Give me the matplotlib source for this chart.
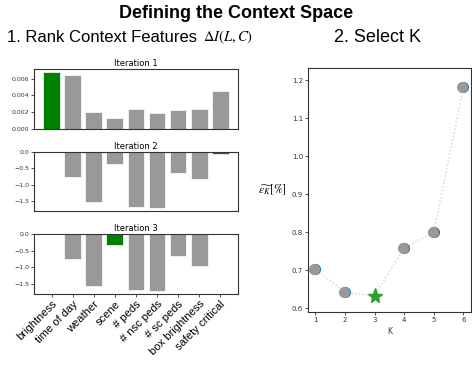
import matplotlib.pyplot as plt
import numpy as np

plt.rcParams["mathtext.fontset"] = "stix"

features = ["brightness", "time of day", "weather", "scene", "# peds",
            "# nsc peds", "# sc peds", "box brightness", "safety critical"]
iter1 = [0.0068, 0.00648, 0.00204, 0.00127, 0.00244, 0.00187, 0.00232, 0.00240, 0.00448]
iter2 = [0.0, -0.75, -1.53, -0.37, -1.68, -1.71, -0.63, -0.81, -0.07]
iter3 = [0.0, -0.75, -1.57, -0.34, -1.70, -1.73, -0.67, -0.98, 0.0]
picked = [0, 8, 3]  # green bar per iteration

k_vals = [1, 2, 3, 4, 5, 6]
eps_k = [0.703, 0.642, 0.633, 0.758, 0.801, 1.182]
best_k = 3

GRAY = "#999999"
SPINE = "#333333"

fig = plt.figure(figsize=(4.72, 3.65), dpi=100)
fig.text(0.5, 0.962, "Defining the Context Space", ha="center", va="center",
         fontsize=13, fontweight="bold", family="Liberation Sans")
fig.text(0.015, 0.897, "1. Rank Context Features", ha="left", va="center",
         fontsize=12, family="Liberation Sans")
fig.text(0.43, 0.897, r"$\Delta I(L,C)$", ha="left", va="center", fontsize=10.5)
fig.text(0.80, 0.897, "2. Select K", ha="center", va="center",
         fontsize=13, family="Liberation Sans")


def style(ax, size=4.5):
    for s in ax.spines.values():
        s.set_color(SPINE)
        s.set_linewidth(0.8)
    ax.tick_params(labelsize=size, length=2, width=0.6, pad=1.5, colors=SPINE)


x = np.arange(len(features))
rects = [(0.072, 0.6466, 0.432, 0.164),
         (0.072, 0.4219, 0.432, 0.162),
         (0.072, 0.1945, 0.432, 0.164)]
for i, (vals, rect) in enumerate(zip([iter1, iter2, iter3], rects)):
    ax = fig.add_axes(rect)
    colors = [GRAY] * len(vals)
    colors[picked[i]] = "green"
    ax.bar(x, vals, width=0.8, color=colors, edgecolor="white", linewidth=0.5)
    ax.set_title(f"Iteration {i + 1}", fontsize=6, pad=2)
    style(ax)
    ax.set_xticks(x)
    if i < 2:
        ax.set_xticklabels([])
        ax.tick_params(axis="x", length=0)
    else:
        ax.set_xticklabels(features, rotation=45, ha="right",
                           rotation_mode="anchor", fontsize=8,
                           family="Liberation Sans", color="black")
    if i == 0:
        ax.set_yticks([0, 0.002, 0.004, 0.006])
        ax.set_yticklabels(["0.000", "0.002", "0.004", "0.006"])
    else:
        ax.set_yticks([0, -0.5, -1.0, -1.5])

axr = fig.add_axes((0.6525, 0.1452, 0.345, 0.668))
axr.plot(k_vals, eps_k, linestyle=":", color="lightgray", linewidth=1, zorder=1)
others = [i for i, k in enumerate(k_vals) if k != best_k]
axr.plot([k_vals[i] for i in others], [eps_k[i] for i in others], "o",
         color="#1f77b4", markersize=7, zorder=2)
axr.plot([k_vals[i] - 0.04 for i in others], [eps_k[i] for i in others], "o",
         color="#999999", markersize=7, zorder=3)
bi = k_vals.index(best_k)
axr.plot([k_vals[bi]], [eps_k[bi]], "*", color="#2ca02c", markersize=11, zorder=4)
axr.set_xlim(0.75, 6.25)
axr.set_ylim(0.59, 1.232)
axr.set_xticks(k_vals)
axr.set_yticks([0.6, 0.7, 0.8, 0.9, 1.0, 1.1, 1.2])
style(axr, size=5)
axr.set_xlabel("K", fontsize=5.5, labelpad=3, color=SPINE)
axr.set_ylabel(r"$\widetilde{\epsilon_K}[\%]$", fontsize=8.5, rotation=0,
               labelpad=14, va="center")

fig.savefig("out.png", dpi=100)
